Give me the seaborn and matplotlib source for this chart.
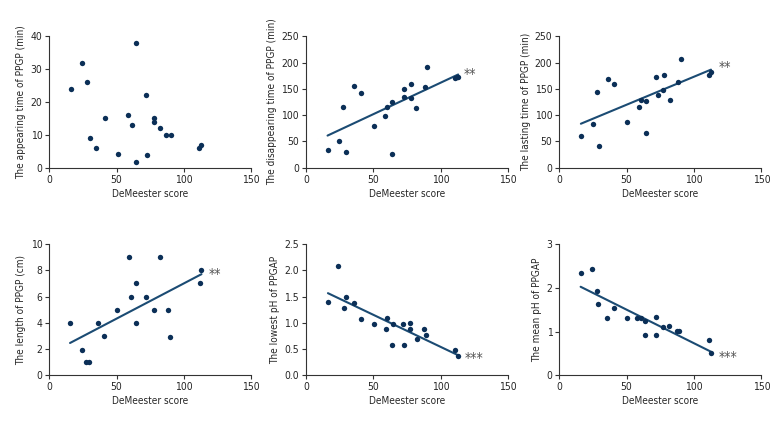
#!/usr/bin/env python3
# encoding: utf-8
"""
Correlación del DeMeester score con los parámetros de PPGP / PPGAP.
Seis gráficos de dispersión, cinco con recta de regresión.
"""

import numpy as np
import pandas as pd
import matplotlib
matplotlib.use('Agg')
import matplotlib.pyplot as plt
import seaborn as sns

# Datos (DeMeester score vs. parámetro)
demeester_aparicion = [16, 24, 28, 30, 35, 41, 51, 58.6, 61.6, 64.3, 64.3, 72, 72.8, 78, 78, 82, 87, 90, 111.5, 113]
aparicion = [24, 32, 26, 9, 6, 15, 4.3, 16, 13, 38, 1.8, 22, 4, 15, 14, 12, 10, 10, 6, 7]

demeester_desaparicion = [16, 24.4, 27.6, 29.6, 35.8, 41, 50.6, 58.7, 60.4, 64, 64, 72.5, 73, 77.7, 78, 82, 88.6, 89.6, 111, 112, 113]
desaparicion = [34, 51, 116, 30, 156, 142, 80, 99, 115, 125, 27, 150, 134, 159, 132, 113, 153, 192, 170, 173, 172]

demeester_duracion = [16, 24.8, 28, 29.7, 35.9, 40.6, 50.5, 59.2, 60.4, 64.4, 64.4, 72, 73, 77, 78, 82, 88.4, 90, 111, 112.6]
duracion = [61, 83, 144, 41, 168, 159, 87, 116, 128, 127, 67, 173, 139, 147, 177, 128, 164, 206, 176, 183]

demeester_longitud = [15.4, 24.3, 27.6, 29.6, 35.8, 40.7, 50.4, 59.1, 60.3, 64.1, 64.1, 72, 77.7, 82, 88.2, 89.6, 111.7, 113]
longitud = [4, 1.9, 1, 1, 4, 3, 5, 9, 6, 7, 4, 6, 5, 9, 5, 2.9, 7, 8]

demeester_ph_min = [16.3, 23.9, 27.9, 29.9, 35.8, 41, 50.8, 59.2, 60.4, 64.6, 63.9, 72.3, 72.8, 77.5, 77.5, 82.2, 87.8, 89, 111, 113.2]
ph_min = [1.40, 2.09, 1.29, 1.50, 1.38, 1.08, 0.98, 0.89, 1.09, 0.98, 0.58, 0.98, 0.58, 1.0, 0.88, 0.69, 0.89, 0.77, 0.48, 0.37]

demeester_ph_medio = [15.8, 24, 27.7, 29, 35.4, 40.3, 50, 57.7, 60.6, 63.9, 63.9, 72, 72, 77.2, 81.2, 87.1, 89, 111, 112.4]
ph_medio = [2.34, 2.44, 1.93, 1.63, 1.30, 1.53, 1.32, 1.32, 1.32, 1.23, 0.92, 1.33, 0.91, 1.11, 1.13, 1.02, 1.02, 0.80, 0.50]

COLOR_PUNTO = '#0b2f57'
COLOR_LINEA = '#1b4b73'
FUENTE = ['Liberation Sans Narrow', 'DejaVu Sans']

# (x, y, etiqueta eje y, límite y, paso y, formato, recta, asteriscos, posición asteriscos)
paneles = [
    (demeester_aparicion, aparicion, 'The appearing time of PPGP (min)', 40, 10, '{:.0f}', False, '', None),
    (demeester_desaparicion, desaparicion, 'The disappearing time of PPGP (min)', 250, 50, '{:.0f}', True, '**', (117, 178)),
    (demeester_duracion, duracion, 'The lasting time of PPGP (min)', 250, 50, '{:.0f}', True, '**', (118, 191)),
    (demeester_longitud, longitud, 'The length of PPGP (cm)', 10, 2, '{:.0f}', True, '**', (118, 7.75)),
    (demeester_ph_min, ph_min, 'The lowest pH of PPGAP', 2.5, 0.5, '{:.1f}', True, '***', (118, 0.33)),
    (demeester_ph_medio, ph_medio, 'The mean pH of PPGAP', 3, 1, '{:.0f}', True, '***', (118, 0.41)),
]

# posiciones de los ejes en fracción de figura
izquierdas = [0.0632, 0.3923, 0.7171]
bases = [0.6118, 0.1312]
ancho, alto = 0.259, 0.304

sns.set_style('white')
plt.rcParams['font.family'] = FUENTE
plt.rcParams['font.stretch'] = 'condensed'

fig = plt.figure(figsize=(7.8, 4.32), dpi=100)

for i, (x, y, etiqueta, ymax, paso, fmt, recta, estrellas, pos) in enumerate(paneles):
    ax = fig.add_axes([izquierdas[i % 3], bases[i // 3], ancho, alto])
    df = pd.DataFrame({'x': x, 'y': y})
    if recta:
        sns.regplot(data=df, x='x', y='y', ci=None, ax=ax,
                    scatter_kws=dict(s=15, color=COLOR_PUNTO, alpha=1, linewidths=0, zorder=3),
                    line_kws=dict(color=COLOR_LINEA, lw=1.5, zorder=2))
    else:
        sns.scatterplot(data=df, x='x', y='y', s=15, color=COLOR_PUNTO, linewidth=0, ax=ax)

    ax.set_xlim(0, 150)
    ax.set_ylim(0, ymax)
    ax.set_xticks([0, 50, 100, 150])
    yt = np.arange(0, ymax + paso / 2, paso)
    ax.set_yticks(yt)
    ax.set_yticklabels([fmt.format(v) for v in yt])
    ax.set_xlabel('DeMeester score', fontsize=7.2, labelpad=3)
    ax.set_ylabel(etiqueta, fontsize=7.2, labelpad=3)
    ax.tick_params(axis='both', labelsize=7.5, length=3, width=0.8, direction='out',
                   color='#333333', pad=2, bottom=True, left=True)
    sns.despine(ax=ax)
    for lado in ['left', 'bottom']:
        ax.spines[lado].set_linewidth(0.8)
        ax.spines[lado].set_color('#333333')

    if estrellas:
        ax.text(pos[0], pos[1], estrellas, fontsize=10, color='#555555',
                ha='left', va='center', clip_on=False)

plt.savefig('out.png', dpi=100)
plt.close()
